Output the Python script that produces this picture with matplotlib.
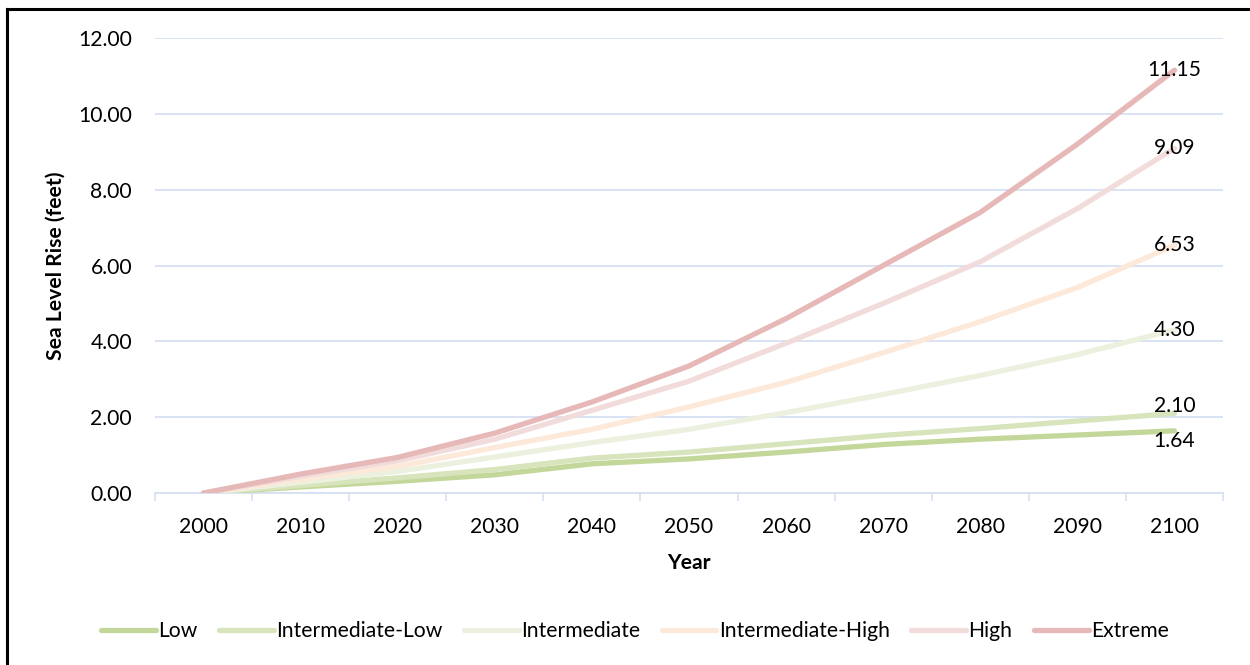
import numpy as np
import matplotlib
matplotlib.use("Agg")
import matplotlib.pyplot as plt
from matplotlib.lines import Line2D

plt.rcParams['font.family'] = ['Lato', 'DejaVu Sans']

years = ['2000', '2010', '2020', '2030', '2040', '2050', '2060', '2070', '2080', '2090', '2100']
scenarios = ['Low', 'Intermediate-Low', 'Intermediate', 'Intermediate-High', 'High', 'Extreme']

low = [0.00, 0.16, 0.31, 0.48, 0.77, 0.90, 1.08, 1.28, 1.42, 1.53, 1.64]
int_low = [0.00, 0.20, 0.40, 0.62, 0.92, 1.08, 1.30, 1.52, 1.70, 1.90, 2.10]
intermediate = [0.00, 0.28, 0.57, 0.95, 1.33, 1.68, 2.12, 2.60, 3.10, 3.65, 4.30]
int_high = [0.00, 0.36, 0.70, 1.20, 1.68, 2.27, 2.92, 3.70, 4.52, 5.42, 6.53]
high = [0.00, 0.44, 0.85, 1.42, 2.18, 2.95, 3.95, 5.00, 6.10, 7.50, 9.09]
extreme = [0.00, 0.50, 0.94, 1.58, 2.40, 3.35, 4.60, 6.00, 7.40, 9.20, 11.15]

series = [low, int_low, intermediate, int_high, high, extreme]
colors = ['#C4D79B', '#D7E4BC', '#EBF1DE', '#FDE9D9', '#F2DCDB', '#E6B8B7']
# small nudges (points) so the two low end labels don't collide
label_dy = [-7, 5, 0, 0, 0, 0]

grid_c = '#D6E0F2'
fs = 15.2

fig = plt.figure(figsize=(12.5, 6.65), dpi=100)
ax = fig.add_axes([0.124, 0.2586, 0.8544, 0.6843])

x = np.arange(len(years))
for vals, c, name, dy in zip(series, colors, scenarios, label_dy):
    ax.plot(x, vals, color=c, lw=3.8, solid_capstyle='round', solid_joinstyle='round',
            label=name, zorder=3)
    ax.annotate(f'{vals[-1]:.2f}', (x[-1], vals[-1]), xytext=(0, dy), textcoords='offset points',
                ha='center', va='center', fontsize=fs, color='black', zorder=5)

ax.set_xlim(-0.5, len(years) - 0.5)
ax.set_ylim(0, 12)
ax.set_yticks(np.arange(0, 12.01, 2))
ax.set_yticklabels([f'{v:.2f}' for v in np.arange(0, 12.01, 2)])
ax.set_xticks(x)
ax.set_xticks(np.arange(-0.5, len(years), 1), minor=True)
ax.set_xticklabels(years)
ax.tick_params(axis='x', which='major', length=0, pad=17, labelsize=fs)
ax.tick_params(axis='x', which='minor', length=5.5, width=1.2, color=grid_c)
ax.tick_params(axis='y', length=0, pad=16.5, labelsize=fs)

ax.grid(axis='y', color=grid_c, lw=1.3, zorder=0)
ax.set_axisbelow(True)
for s in ['top', 'right', 'left']:
    ax.spines[s].set_visible(False)
ax.spines['bottom'].set_color(grid_c)
ax.spines['bottom'].set_linewidth(1.3)

ax.set_ylabel('Sea Level Rise (feet)', fontsize=fs, fontweight='bold', labelpad=9)
ax.set_xlabel('Year', fontsize=fs, fontweight='bold', labelpad=12)

handles = [Line2D([], [], color=c, lw=3.8, solid_capstyle='round') for c in colors]
fig.legend(handles, scenarios, loc='center', bbox_to_anchor=(0.508, 0.051), ncol=6,
           frameon=False, fontsize=15.2, handlelength=2.6, handletextpad=0.12,
           columnspacing=1.0)

# outer chart border (only left and top edges fall inside the image)
fig.add_artist(Line2D([0.0056, 0.0056], [0, 0.9872], color='black', lw=2.2, transform=fig.transFigure))
fig.add_artist(Line2D([0.0056, 1.0], [0.9872, 0.9872], color='black', lw=2.2, transform=fig.transFigure))

fig.savefig('out.png', dpi=100)
